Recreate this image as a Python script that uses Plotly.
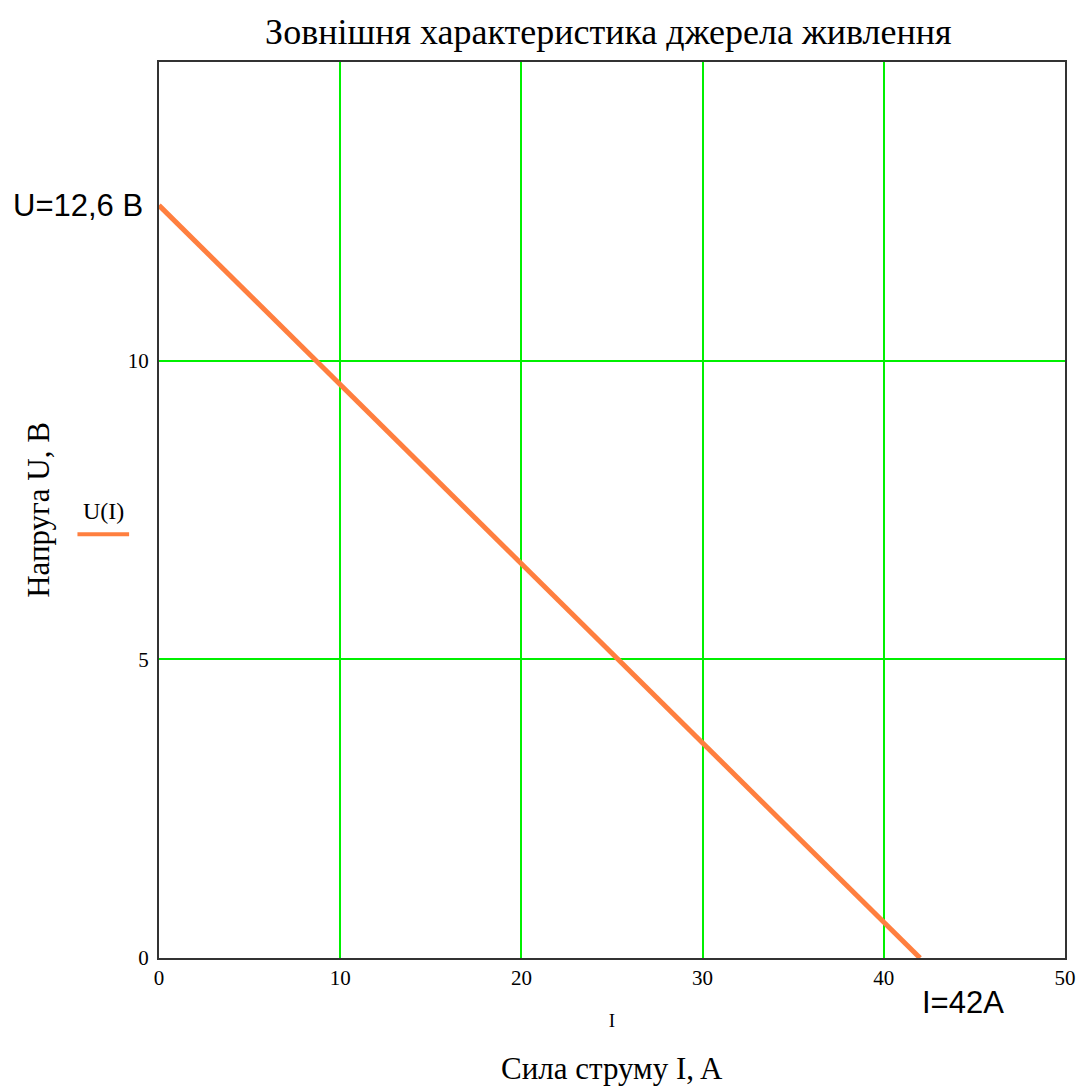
import plotly.graph_objects as go

# Data
current_I = [0, 42]
voltage_U = [12.6, 0]
x_ticks = [0, 10, 20, 30, 40, 50]
y_ticks = [0, 5, 10]

title_text = "Зовнішня характеристика джерела живлення"
x_title = "Сила струму I, A"
y_title = "Напруга U, B"
legend_name = "U(I)"

serif = "Liberation Serif, Times New Roman, serif"
sans = "Liberation Sans, Arial, sans-serif"
orange = "#FF7F3F"
green = "#00F000"

fig = go.Figure()
fig.add_trace(go.Scatter(x=current_I, y=voltage_U, mode="lines",
                         line=dict(color=orange, width=5), name=legend_name,
                         showlegend=False))

fig.update_layout(
    width=1082, height=1082,
    margin=dict(l=151, r=25, t=54, b=132),
    paper_bgcolor="white", plot_bgcolor="white",
    title=dict(text=title_text, xref="paper", x=0.496, xanchor="center",
               yref="container", y=0.978, yanchor="middle",
               font=dict(family=serif, size=36, color="black")),
    xaxis=dict(range=[0, 50], tickvals=x_ticks, ticktext=[str(v) for v in x_ticks],
               showgrid=True, gridcolor=green, gridwidth=2, zeroline=False,
               showline=True, linecolor="#333333", linewidth=2, mirror=True,
               ticks="", tickfont=dict(family=serif, size=21, color="black"),
               title=dict(text="I", font=dict(family=serif, size=19, color="black"), standoff=24)),
    yaxis=dict(range=[0, 15], tickvals=y_ticks, ticktext=[str(v) for v in y_ticks],
               showgrid=True, gridcolor=green, gridwidth=2, zeroline=False,
               showline=True, linecolor="#333333", linewidth=2, mirror=True,
               ticks="", ticklabelstandoff=4, tickfont=dict(family=serif, size=21, color="black"),
               title=dict(text=y_title, font=dict(family=serif, size=31, color="black"), standoff=69)),
)

fig.add_annotation(text=x_title, xref="paper", yref="paper", x=0.5, y=-0.123,
                   xanchor="center", yanchor="middle", showarrow=False,
                   font=dict(family=serif, size=31, color="black"))
fig.add_annotation(text="U=12,6 B", xref="paper", yref="y", x=-0.163, y=12.6,
                   xanchor="left", yanchor="middle", showarrow=False,
                   font=dict(family=sans, size=31, color="black"))
fig.add_annotation(text="I=42A", xref="x", yref="paper", x=42, y=-0.05,
                   xanchor="left", yanchor="middle", showarrow=False,
                   font=dict(family=sans, size=31, color="black"))
fig.add_annotation(text=legend_name, xref="paper", yref="paper", x=-0.0615, y=0.499,
                   xanchor="center", yanchor="middle", showarrow=False,
                   font=dict(family=serif, size=24, color="black"))
fig.add_shape(type="line", xref="paper", yref="paper", x0=-0.09, x1=-0.033,
              y0=0.473, y1=0.473, line=dict(color=orange, width=4))

fig.write_html("out.html")
